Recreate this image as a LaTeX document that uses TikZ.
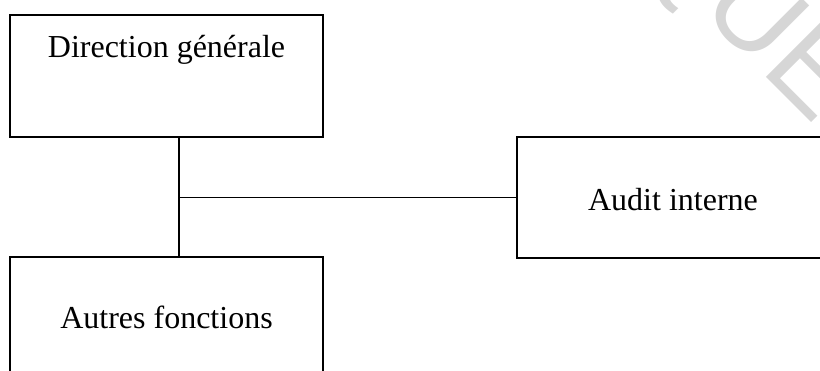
\documentclass[tikz,border=0pt]{standalone}
\usepackage{fontspec}
\setmainfont{Liberation Serif}
\newfontfamily\marksans{Liberation Sans}
\begin{document}
\begin{tikzpicture}[x=1pt,y=1pt,
  orgbox/.style={draw=black, line width=1.8pt, minimum width=313pt,
    minimum height=122pt, inner sep=0pt, outer sep=0pt},
  boxtext/.style={font=\fontsize{32}{38}\selectfont, anchor=base, inner sep=0pt},
  link/.style={draw=black, line width=1.8pt}]
\useasboundingbox (0,0) rectangle (820,-370);
\clip (0,0) rectangle (820,-370);

% light diagonal watermark in the corner
\node[font=\marksans\fontsize{118}{140}\selectfont, text=black!16, rotate=-45,
  anchor=base east, inner sep=0pt] (mark) at (815,-126) {QUE};

% boxes
\node[orgbox] (dg) at (166.5,-76) {};
\node[boxtext] (dgt) at (166.5,-57) {Direction générale};

\node[orgbox, minimum width=312pt, minimum height=121pt] (ai) at (673,-197.5) {};
\node[boxtext] (ait) at (673,-210) {Audit interne};

\node[orgbox] (af) at (166.5,-318) {};
\node[boxtext] (aft) at (166.5,-328) {Autres fonctions};

% connectors
\coordinate (j) at (179,-197.5);
\draw[link] (dg.south -| j) -- (af.north -| j);
\draw[link] (j) -- (ai.west);
\end{tikzpicture}
\end{document}
